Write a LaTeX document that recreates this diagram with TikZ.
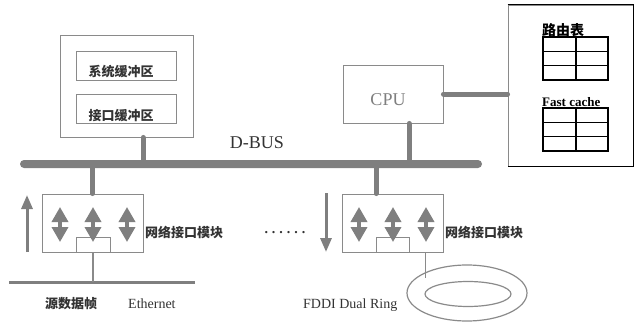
\documentclass[tikz,border=0pt]{standalone}
\usepackage{fontspec}
\setmainfont{Liberation Serif}
\newfontfamily\cjk{Noto Sans CJK SC}
\usetikzlibrary{arrows.meta,shapes.geometric}
\definecolor{rtbus}{HTML}{7F7F7F}
\definecolor{rtline}{HTML}{8A8A8A}
\definecolor{rttext}{HTML}{333333}
\newcommand{\rttable}[1]{%
  \draw[rtgrid] (543,#1) rectangle (608,#1+43);
  \draw[rtgrid] (576,#1) -- (576,#1+43);
  \foreach \k in {1,2}{\draw[rtgrid] (543,#1+\k*14.33) -- (608,#1+\k*14.33);}}

\begin{document}
\begin{tikzpicture}[x=1pt,y=-1pt,
  rtbox/.style={draw=rtline,line width=0.9pt,inner sep=0pt},
  rtlink/.style={draw=rtbus,line width=5pt,line cap=round},
  rtwire/.style={draw=rtline,line width=1.3pt},
  rtgrid/.style={draw=black,line width=1.4pt},
  rtdbl/.style={draw=rtbus,line width=3.5pt,{Triangle[width=16pt,length=15pt]}-{Triangle[width=16pt,length=15pt]}},
  rtflow/.style={draw=rtbus,line width=3pt,-{Triangle[width=11pt,length=14pt]}},
  cn/.style={text=rttext,font=\cjk\bfseries\fontsize{13}{13}\selectfont,inner sep=0pt},
  lt/.style={text=rttext,font=\fontsize{14}{14}\selectfont,inner sep=0pt}]
  \useasboundingbox (0,0) rectangle (641,324);

  \node[rtbox,minimum width=133pt,minimum height=102pt] (mem) at (126.5,86) {};
  \node[rtbox,minimum width=100pt,minimum height=29pt] (sysbuf) at (126,65.5) {};
  \node[rtbox,minimum width=100pt,minimum height=29pt] (ifbuf) at (126,108.5) {};
  \node[cn] (sysbuftxt) at (121,72) {系统缓冲区};
  \node[cn] (ifbuftxt) at (121,116) {接口缓冲区};

  \node[rtbox,minimum width=100pt,minimum height=58pt] (cpu) at (393,94) {};
  \node[text=rtbus,font=\fontsize{18}{18}\selectfont,inner sep=0pt] (cputxt) at (388,100) {CPU};

  \node[rtbox,minimum width=125pt,minimum height=161pt] (tbl) at (570.5,85.5) {};
  \draw[draw=black,line width=1.3pt] (tbl.north west) -- (tbl.north east) -- (tbl.south east) -- (tbl.south west);
  \node[font=\cjk\bfseries\fontsize{14}{14}\selectfont,inner sep=0pt,anchor=west] (routetxt) at (542,30) {路由表};
  \node[font=\bfseries\fontsize{13}{13}\selectfont,inner sep=0pt,anchor=west] (cachetxt) at (542,102) {Fast cache};
  \rttable{37}
  \rttable{108}

  \node[fill=rtbus,rounded corners=4pt,minimum width=462pt,minimum height=8pt,inner sep=0pt] (bus) at (251,164) {};
  \node[text=rttext,font=\fontsize{18}{18}\selectfont,inner sep=0pt] (bustxt) at (257,143) {D-BUS};

  \node[rtbox,minimum width=101pt,minimum height=58pt] (nif1) at (92.5,223) {};
  \node[rtbox,minimum width=34pt,minimum height=15pt] (port1) at (93,244.5) {};
  \node[rtbox,minimum width=101pt,minimum height=58pt] (nif2) at (392.5,223) {};
  \node[rtbox,minimum width=33pt,minimum height=15pt] (port2) at (392.5,244.5) {};
  \foreach \x in {60,93,127,359,393,426}{\draw[rtdbl] (\x,207) -- (\x,242);}
  \node[cn,anchor=west] (nif1txt) at (145,232) {网络接口模块};
  \node[cn,anchor=west] (nif2txt) at (445,232) {网络接口模块};
  \node[text=rttext,font=\bfseries\fontsize{14}{14}\selectfont,inner sep=0pt] (dots) at (285,233) {.\kern4pt.\kern4pt.\kern4pt.\kern4pt.\kern4pt.};

  \coordinate (up0) at (27,252);
  \coordinate (up1) at (27,195);
  \draw[rtflow] (up0) -- (up1);
  \coordinate (dn0) at (326,193);
  \coordinate (dn1) at (326,252);
  \draw[rtflow] (dn0) -- (dn1);

  \coordinate (ethL) at (9,282);
  \coordinate (ethR) at (195,282);
  \draw[draw=rtbus,line width=3pt] (ethL) -- (ethR);
  \draw[rtwire] (port1.south) -- (port1.south |- ethL);

  \node[draw=rtline,line width=1.2pt,ellipse,minimum width=120pt,minimum height=56pt,inner sep=0pt] (ring) at (467,293) {};
  \node[draw=rtline,line width=1.2pt,ellipse,minimum width=86pt,minimum height=25pt,inner sep=0pt] (ringin) at (468,294) {};
  \draw[rtwire] ([xshift=-18pt]nif2.south east) -- ++(0,26);

  \draw[rtlink] ([xshift=16.5pt]mem.south) -- ([xshift=16.5pt]mem.south |- bus.center);
  \draw[rtlink] ([xshift=16pt]cpu.south) -- ([xshift=16pt]cpu.south |- bus.center);
  \draw[rtlink] (cpu.east) -- (cpu.east -| tbl.west);
  \draw[rtlink] (nif1.north) -- (nif1.north |- bus.center);
  \draw[rtlink] ([xshift=-16.5pt]nif2.north) -- ([xshift=-16.5pt]nif2.north |- bus.center);

  \node[cn,anchor=west] (srctxt) at (45,304) {源数据帧};
  \node[lt,anchor=west] (ethtxt) at (128,304) {Ethernet};
  \node[lt,anchor=west] (fdditxt) at (303,305) {FDDI Dual Ring};
\end{tikzpicture}
\end{document}
